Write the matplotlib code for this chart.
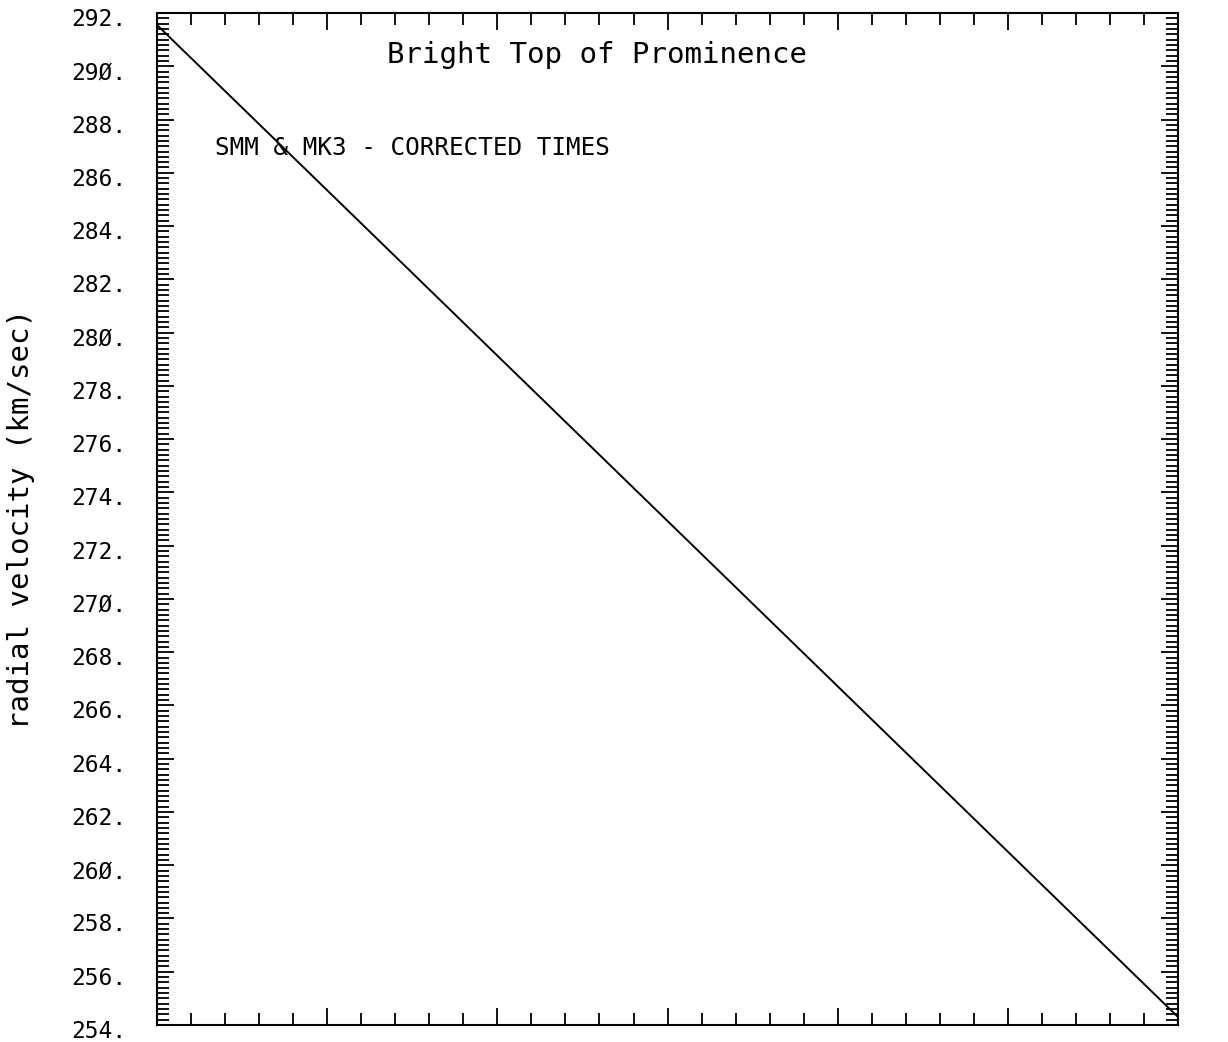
import numpy as np
import matplotlib.pyplot as plt
import matplotlib.transforms as mtransforms
from matplotlib.ticker import MultipleLocator, FixedLocator, FixedFormatter

# Fit line: radial velocity vs time (end points)
time = [0.0, 30.0]
velocity = [291.55, 254.3]

# Axis ranges and labelled ticks
XLIM = (0, 30)
YLIM = (254, 292)
yticks = list(range(254, 293, 2))
ylabels = [f"{v}.".replace("0", "\u00d8") for v in yticks]

TITLE = "Bright Top of Prominence"
NOTE = "SMM & MK3 - CORRECTED TIMES"
YLABEL = "radial velocity (km/sec)"

FONT = "DejaVu Sans Mono"

#------------------------------   Figure   ---------------------------------#
fig = plt.figure(figsize=(12.28, 10.42), dpi=100)
ax = fig.add_axes([0.1279, 0.0163, 0.8314, 0.9712])

ax.plot(time, velocity, color='black', linewidth=1.4)

ax.set_xlim(*XLIM)
ax.set_ylim(*YLIM)

# x axis: ticks only, no labels
ax.xaxis.set_major_locator(MultipleLocator(5))
ax.xaxis.set_minor_locator(MultipleLocator(1))
ax.set_xticklabels([])

# y axis: labelled every 2, minor every 0.2
ax.yaxis.set_major_locator(FixedLocator(yticks))
ax.yaxis.set_major_formatter(FixedFormatter(ylabels))
ax.yaxis.set_minor_locator(MultipleLocator(0.2))

ax.tick_params(which='both', direction='in', top=True, right=True,
               width=1.3, color='black')
ax.tick_params(which='major', length=12)
ax.tick_params(which='minor', length=8.5)
ax.tick_params(axis='y', which='major', pad=22, labelsize=16.5)

# labels sit a little below their ticks in the original plot
shift = mtransforms.ScaledTranslation(0, -4 / 100, fig.dpi_scale_trans)
for lab in ax.get_yticklabels():
    lab.set_fontfamily(FONT)
    lab.set_transform(lab.get_transform() + shift)

for sp in ax.spines.values():
    sp.set_linewidth(1.5)

ax.text(12.93, 290.42, TITLE, ha='center', va='center',
        fontsize=21, family=FONT)
ax.text(1.70, 286.93, NOTE, ha='left', va='center',
        fontsize=17.5, family=FONT)

ax.set_ylabel(YLABEL, fontsize=21, family=FONT)
ax.yaxis.set_label_coords(-0.1195, 0.5)

fig.savefig("out.png", dpi=100)
